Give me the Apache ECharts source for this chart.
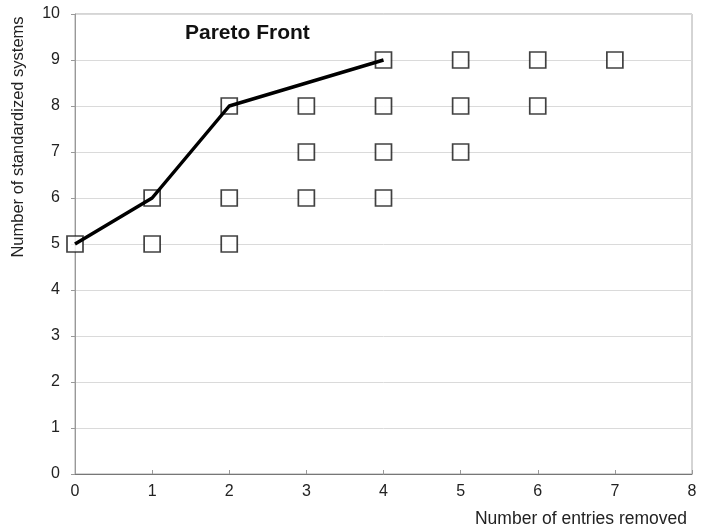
<!DOCTYPE html>
<html><head><meta charset="utf-8">
<script src="https://cdn.jsdelivr.net/npm/echarts@6/dist/echarts.min.js"></script>
<style>html,body{margin:0;padding:0;background:#fff}#c{width:701px;height:531px}</style>
</head><body><div id="c"></div>
<script>
const xTicks = [0,1,2,3,4,5,6,7,8];
const yTicks = [0,1,2,3,4,5,6,7,8,9,10];
const solutionsX = [0,1,2, 1,2,3,4, 3,4,5, 2,3,4,5,6, 4,5,6,7];
const solutionsY = [5,5,5, 6,6,6,6, 7,7,7, 8,8,8,8,8, 9,9,9,9];
const paretoX = [0,1,2,4];
const paretoY = [5,6,8,9];
const xTitle = 'Number of entries removed';
const yTitle = 'Number of standardized systems';
const annotation = 'Pareto Front';

const chart = echarts.init(document.getElementById('c'));
const font = 'Liberation Sans, Arial, sans-serif';
chart.setOption({
  animation: false,
  grid: {left: 75, top: 14, right: 9, bottom: 57, show: true, borderColor: '#aaa', borderWidth: 1},
  xAxis: {
    type: 'value', min: 0, max: 8, interval: 1,
    axisLine: {show: true, lineStyle: {color: '#777', width: 1}},
    axisTick: {show: true, inside: true, length: 4, lineStyle: {color: '#999'}},
    axisLabel: {color: '#222', fontSize: 16, fontFamily: font, margin: 10},
    splitLine: {show: false}
  },
  yAxis: {
    type: 'value', min: 0, max: 10, interval: 1,
    axisLine: {show: true, lineStyle: {color: '#999', width: 1}},
    axisTick: {show: true, length: 4, lineStyle: {color: '#999'}},
    axisLabel: {color: '#222', fontSize: 16, fontFamily: font, margin: 15},
    splitLine: {show: true, lineStyle: {color: '#dadada', width: 1}}
  },
  series: [
    {
      type: 'scatter', symbol: 'rect', symbolSize: 16,
      itemStyle: {color: '#fff', borderColor: '#111', borderWidth: 1.7},
      data: solutionsX.map((x, i) => [x, solutionsY[i]]), z: 2
    },
    {
      type: 'line', symbol: 'none',
      lineStyle: {color: '#000', width: 3.5},
      data: paretoX.map((x, i) => [x, paretoY[i]]), z: 3
    }
  ],
  graphic: [
    {type: 'text', left: 185, top: 23, style: {text: annotation, font: 'bold 21px ' + font, fill: '#111'}},
    {type: 'text', right: 14, top: 510, style: {text: xTitle, font: '17.5px ' + font, fill: '#222'}},
    {type: 'text', x: 18, y: 137, rotation: Math.PI/2, style: {text: yTitle, font: '16.5px ' + font, fill: '#222', align: 'center', verticalAlign: 'middle'}}
  ]
});
</script></body></html>
